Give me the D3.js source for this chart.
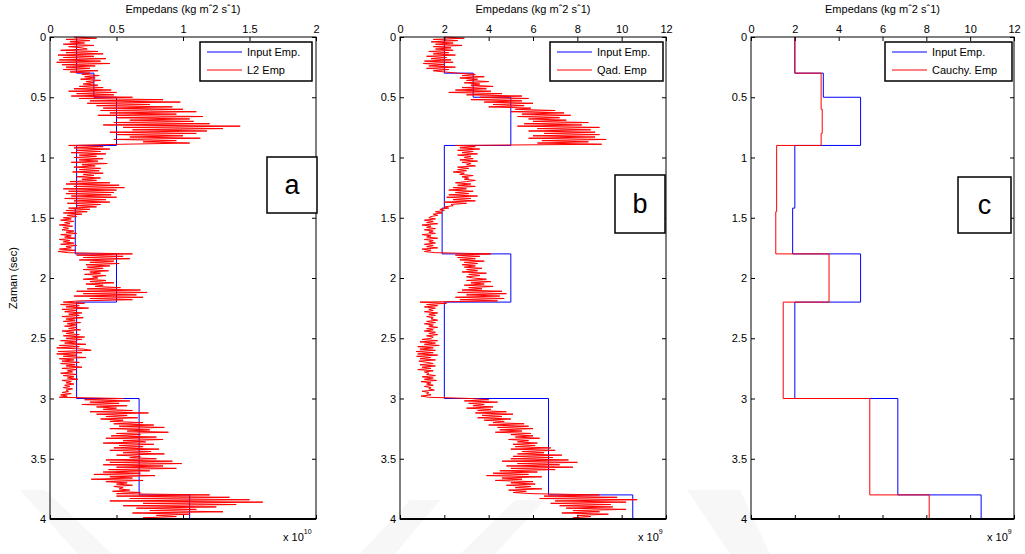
<!DOCTYPE html>
<html>
<head>
<meta charset="utf-8">
<script src="https://cdn.jsdelivr.net/npm/d3@7"></script>
<style>
  body { margin: 0; background: #fff; }
  text { font-family: "Liberation Sans", Arial, sans-serif; fill: #000; }
</style>
</head>
<body>
<svg id="chart" width="1025" height="554"></svg>
<script>
// ---- data ----
// step model (input impedance), units of 1e9
const stepTimes = [0, 0.3, 0.5, 0.9, 1.42, 1.8, 2.2, 3.0, 3.8, 4.0];
const inputImp = [2.0, 3.3, 5.0, 2.0, 1.9, 5.0, 2.0, 6.7, 10.5];

// Cauchy inversion result, units of 1e9
const cauchyTimes = [0, 0.3, 0.6, 0.8, 0.9, 1.45, 1.8, 2.2, 3.0, 3.8, 4.0];
const cauchyImp = [2.0, 3.2, 3.25, 3.2, 1.17, 1.13, 3.56, 1.47, 5.42, 8.13];

// L2 inversion result, sampled every 0.01 s, units of 1e10
const l2Imp = [
  0.18,0.35,0.12,0.30,0.15,0.26,0.10,0.33,0.14,0.24,
  0.28,0.08,0.36,0.12,0.40,0.06,0.33,0.10,0.42,0.07,
  0.38,0.05,0.45,0.09,0.34,0.12,0.30,0.10,0.36,0.15,
  0.30,0.24,0.37,0.26,0.34,0.23,0.38,0.27,0.33,0.25,
  0.36,0.22,0.40,0.18,0.46,0.14,0.50,0.20,0.48,0.16,
  0.62,0.22,0.85,0.30,0.98,0.28,0.75,0.35,0.92,0.40,
  1.00,0.38,1.10,0.45,0.95,0.36,1.15,0.50,1.05,0.60,
  1.08,0.48,1.20,0.40,1.43,0.55,1.30,0.62,1.18,0.45,
  1.10,0.50,1.00,0.60,1.13,0.48,0.95,0.70,1.05,0.55,
  0.14,0.40,0.18,0.45,0.20,0.38,0.16,0.42,0.22,0.35,
  0.18,0.40,0.22,0.36,0.16,0.43,0.24,0.34,0.18,0.38,
  0.22,0.37,0.17,0.40,0.25,0.33,0.20,0.38,0.24,0.35,
  0.15,0.45,0.12,0.52,0.18,0.56,0.10,0.50,0.14,0.48,
  0.12,0.46,0.16,0.50,0.11,0.42,0.18,0.45,0.13,0.38,
  0.20,0.35,0.14,0.30,0.12,0.28,0.10,0.24,0.13,0.20,
  0.10,0.16,0.08,0.18,0.11,0.15,0.07,0.17,0.10,0.14,
  0.09,0.18,0.12,0.20,0.08,0.16,0.11,0.19,0.07,0.15,
  0.10,0.18,0.08,0.20,0.12,0.16,0.07,0.19,0.06,0.14,
  0.62,0.20,0.55,0.25,0.60,0.22,0.48,0.30,0.52,0.27,
  0.45,0.28,0.40,0.25,0.44,0.30,0.38,0.26,0.42,0.32,
  0.36,0.25,0.42,0.30,0.48,0.27,0.40,0.34,0.53,0.28,
  0.68,0.20,0.73,0.25,0.65,0.18,0.70,0.30,0.62,0.22,
  0.10,0.26,0.08,0.22,0.12,0.29,0.09,0.20,0.11,0.24,
  0.14,0.22,0.09,0.25,0.12,0.19,0.10,0.23,0.13,0.20,
  0.11,0.20,0.14,0.23,0.09,0.18,0.12,0.22,0.10,0.26,
  0.12,0.24,0.08,0.20,0.11,0.27,0.07,0.22,0.05,0.25,
  0.31,0.06,0.24,0.05,0.20,0.10,0.27,0.07,0.18,0.09,
  0.22,0.08,0.19,0.12,0.24,0.09,0.20,0.13,0.17,0.08,
  0.20,0.10,0.18,0.13,0.21,0.09,0.16,0.12,0.18,0.11,
  0.15,0.10,0.17,0.12,0.14,0.09,0.16,0.08,0.13,0.07,
  0.55,0.26,0.60,0.30,0.52,0.24,0.58,0.35,0.50,0.40,
  0.62,0.30,0.74,0.35,0.58,0.42,0.66,0.38,0.55,0.45,
  0.70,0.48,0.78,0.52,0.86,0.45,0.75,0.58,0.89,0.50,
  0.68,0.46,0.80,0.42,0.85,0.55,0.72,0.40,0.78,0.52,
  0.70,0.48,0.82,0.45,0.76,0.55,0.86,0.50,0.68,0.60,
  0.80,0.42,0.92,0.45,0.99,0.40,0.85,0.50,0.95,0.44,
  0.75,0.40,0.68,0.33,0.79,0.45,0.62,0.31,0.70,0.42,
  0.58,0.50,0.62,0.48,0.55,0.52,0.60,0.47,0.68,0.50,
  1.20,0.50,1.35,0.60,1.50,0.45,1.60,0.70,1.40,0.55,
  1.25,0.65,1.10,0.75,1.30,0.62,1.05,0.80,0.95,0.70,
  0.90
];

// quadratic inversion result, sampled every 0.01 s, units of 1e9
const qadImp = [
  2.0,2.9,1.5,2.6,1.4,2.4,1.6,2.8,1.5,2.3,
  1.6,2.4,1.3,2.2,1.5,2.5,1.2,2.1,1.4,2.3,
  1.1,2.4,1.05,2.0,1.3,2.5,1.2,2.2,1.5,2.0,
  2.6,3.4,2.8,3.8,2.7,3.5,3.0,4.0,2.9,3.6,
  3.2,4.2,2.8,3.9,2.5,4.1,2.2,4.6,3.0,5.5,
  3.6,5.8,3.2,5.5,3.8,6.0,4.2,5.6,4.0,5.9,
  5.2,7.0,5.0,7.4,5.5,7.7,5.3,7.2,5.8,7.5,
  6.0,8.5,5.6,8.2,5.3,9.0,6.2,8.6,5.8,8.8,
  6.5,9.0,6.0,8.8,5.8,9.3,6.4,8.5,6.2,9.1,
  2.5,3.4,2.7,3.6,2.6,3.3,2.8,3.5,2.6,3.2,
  2.9,3.3,2.7,3.5,2.8,3.2,3.0,3.4,2.6,3.1,
  2.6,3.0,2.4,2.9,2.7,3.3,2.8,3.1,2.9,3.4,
  3.0,2.5,3.2,2.6,3.4,2.4,3.0,2.2,3.3,2.5,
  3.1,2.2,3.5,2.1,3.2,2.4,3.4,2.0,3.0,2.3,
  2.4,2.0,2.2,1.8,2.0,1.6,1.9,1.5,1.7,1.4,
  1.3,1.6,1.1,1.5,1.2,1.7,1.0,1.4,1.2,1.6,
  1.1,1.5,1.3,1.6,1.0,1.4,1.2,1.7,1.1,1.5,
  1.3,1.6,1.1,1.5,1.2,1.7,1.0,1.4,1.1,1.6,
  4.1,2.5,3.6,2.6,3.4,2.7,3.8,2.9,3.5,2.8,
  3.4,2.9,3.7,3.0,3.5,2.8,3.9,3.1,3.6,3.0,
  3.3,3.9,3.0,4.1,3.2,3.8,2.9,4.2,3.1,3.7,
  2.8,4.6,2.6,4.8,3.0,4.5,2.5,4.7,2.7,4.4,
  0.9,2.1,1.2,1.7,1.1,1.6,1.3,1.5,1.1,1.7,
  1.3,1.6,1.2,1.5,1.4,1.7,1.2,1.6,1.1,1.5,
  1.3,1.7,1.2,1.5,1.1,1.6,1.3,1.7,1.2,1.5,
  1.4,1.0,1.7,0.9,1.6,1.1,1.77,0.8,1.5,0.9,
  1.6,0.72,1.5,0.8,1.7,0.75,1.4,0.9,1.6,0.85,
  1.2,1.5,0.9,1.6,1.0,1.4,0.8,1.5,1.1,1.3,
  1.2,1.6,1.0,1.5,1.1,1.65,0.95,1.4,1.2,1.5,
  1.1,1.4,1.3,1.55,1.0,1.3,1.2,1.4,0.95,1.3,
  3.2,4.0,2.9,4.4,3.1,3.8,3.3,4.2,3.0,4.1,
  3.5,4.8,3.4,5.1,3.7,4.6,3.5,5.0,3.8,4.7,
  4.2,5.6,4.0,5.8,4.4,6.0,4.5,5.5,4.3,5.9,
  5.0,6.0,5.2,6.3,4.9,5.8,5.3,6.2,5.1,6.1,
  5.2,6.8,5.0,7.0,5.5,6.5,5.3,7.3,5.1,6.9,
  5.0,7.6,4.6,8.0,5.3,7.2,4.8,7.8,5.0,7.0,
  4.5,6.2,4.2,5.8,3.9,6.4,4.6,5.5,4.3,6.0,
  5.0,6.1,4.8,5.9,5.2,6.4,4.9,5.7,5.1,6.0,
  9.0,6.5,9.8,6.3,10.7,7.0,10.2,6.8,9.5,7.2,
  9.6,7.5,10.2,7.8,9.0,7.3,9.4,8.0,8.6,7.8,
  8.2
];

const SAMPLE_DT = 0.01;
const timeTicks = [0, 0.5, 1, 1.5, 2, 2.5, 3, 3.5, 4];
const ticksA = [0, 0.5, 1, 1.5, 2];
const ticksBC = [0, 2, 4, 6, 8, 10, 12];

const TOP = 37;
const BOTTOM = 519;
const fmt = d3.format('~g');

const svg = d3.select('#chart');

// faint watermark in the background
const watermark = [
  [[20, 490], [45, 490], [112, 554], [78, 554]],
  [[360, 554], [410, 500], [440, 500], [395, 554]],
  [[460, 554], [515, 500], [545, 500], [495, 554]],
  [[687, 490], [740, 490], [770, 554], [730, 554]]
];
svg.append('g').selectAll('polygon').data(watermark).join('polygon')
  .attr('points', d => d.map(p => p.join(',')).join(' '))
  .attr('fill', '#f7f7f7');

function toSteps(times, values) {
  const pts = values.map((v, i) => ({ v, t: times[i] }));
  pts.push({ v: values[values.length - 1], t: times[times.length - 1] });
  return pts;
}

function toSamples(values) {
  return values.map((v, i) => ({ v, t: i * SAMPLE_DT }));
}

const panels = [
  {
    left: 50, right: 316, xMax: 2, ticks: ticksA,
    blue: toSteps(stepTimes, inputImp.map(v => v / 10)),
    red: toSamples(l2Imp), redStep: false,
    legendName: 'L2 Emp', legend: { x: 200, w: 112 },
    letter: 'a', box: { x: 267, y: 157, w: 50, h: 56 },
    exponent: '10', expX: 283, yLabel: true
  },
  {
    left: 400, right: 666, xMax: 12, ticks: ticksBC,
    blue: toSteps(stepTimes, inputImp),
    red: toSamples(qadImp), redStep: false,
    legendName: 'Qad. Emp', legend: { x: 550, w: 113 },
    letter: 'b', box: { x: 615, y: 175, w: 50, h: 58 },
    exponent: '9', expX: 638, yLabel: false
  },
  {
    left: 751, right: 1014, xMax: 12, ticks: ticksBC,
    blue: toSteps(stepTimes, inputImp),
    red: toSteps(cauchyTimes, cauchyImp), redStep: true,
    legendName: 'Cauchy. Emp', legend: { x: 885, w: 127 },
    letter: 'c', box: { x: 958, y: 177, w: 53, h: 56 },
    exponent: '9', expX: 987, yLabel: false
  }
];

panels.forEach(p => {
  const x = d3.scaleLinear().domain([0, p.xMax]).range([p.left, p.right]);
  const y = d3.scaleLinear().domain([0, 4]).range([TOP, BOTTOM]);
  const g = svg.append('g');

  // data lines
  const stepLine = d3.line().x(d => x(d.v)).y(d => y(d.t)).curve(d3.curveStepBefore);
  const plainLine = d3.line().x(d => x(d.v)).y(d => y(d.t));

  g.append('path').datum(p.blue)
    .attr('d', stepLine)
    .attr('fill', 'none').attr('stroke', '#0000ff').attr('stroke-width', 1);
  g.append('path').datum(p.red)
    .attr('d', p.redStep ? stepLine : plainLine)
    .attr('fill', 'none').attr('stroke', '#ff0000').attr('stroke-width', 1);

  // axes, ticks pointing inward
  g.append('g').attr('transform', `translate(0,${TOP})`)
    .call(d3.axisTop(x).tickValues(p.ticks).tickFormat(fmt).tickSize(-4).tickPadding(4));
  g.append('g').attr('transform', `translate(${p.left},0)`)
    .call(d3.axisLeft(y).tickValues(timeTicks).tickFormat(fmt).tickSize(-4).tickPadding(4));
  g.append('g').attr('transform', `translate(0,${BOTTOM})`)
    .call(d3.axisBottom(x).tickValues(p.ticks).tickSize(-4).tickFormat(''));
  g.append('g').attr('transform', `translate(${p.right},0)`)
    .call(d3.axisRight(y).tickValues(timeTicks).tickSize(-4).tickFormat(''));
  g.selectAll('.domain').remove();
  g.selectAll('.tick text').attr('font-size', 11)
    .attr('font-family', '"Liberation Sans", Arial, sans-serif');

  // frame
  g.append('rect')
    .attr('x', p.left).attr('y', TOP)
    .attr('width', p.right - p.left).attr('height', BOTTOM - TOP)
    .attr('fill', 'none').attr('stroke', '#000').attr('stroke-width', 1);
  g.append('line')
    .attr('x1', p.left).attr('x2', p.right)
    .attr('y1', BOTTOM).attr('y2', BOTTOM)
    .attr('stroke', '#000').attr('stroke-width', 2);

  // title
  g.append('text')
    .attr('x', (p.left + p.right) / 2).attr('y', 13)
    .attr('text-anchor', 'middle').attr('font-size', 11)
    .text('Empedans (kg mˆ2 sˆ1)');

  // exponent label
  const ex = g.append('text').attr('x', p.expX).attr('y', 541).attr('font-size', 11);
  ex.append('tspan').text('x 10');
  ex.append('tspan').attr('dy', -7).attr('font-size', 7).text(p.exponent);

  if (p.yLabel) {
    svg.append('text')
      .attr('transform', `translate(17,${(TOP + BOTTOM) / 2}) rotate(-90)`)
      .attr('text-anchor', 'middle').attr('font-size', 11)
      .text('Zaman (sec)');
  }

  // legend
  const lg = g.append('g').attr('transform', `translate(${p.legend.x},42)`);
  lg.append('rect').attr('width', p.legend.w).attr('height', 39)
    .attr('fill', '#fff').attr('stroke', '#000').attr('stroke-width', 1.5);
  const items = [
    { name: 'Input Emp.', color: '#0000ff' },
    { name: p.legendName, color: '#ff0000' }
  ];
  items.forEach((it, i) => {
    const yy = 10 + i * 18;
    lg.append('line').attr('x1', 7).attr('x2', 42).attr('y1', yy).attr('y2', yy)
      .attr('stroke', it.color).attr('stroke-width', 1);
    lg.append('text').attr('x', 47).attr('y', yy + 4).attr('font-size', 11).text(it.name);
  });

  // panel letter
  g.append('rect')
    .attr('x', p.box.x).attr('y', p.box.y).attr('width', p.box.w).attr('height', p.box.h)
    .attr('fill', '#fff').attr('stroke', '#000').attr('stroke-width', 1.5);
  g.append('text')
    .attr('x', p.box.x + p.box.w / 2).attr('y', p.box.y + p.box.h / 2 + 9)
    .attr('text-anchor', 'middle').attr('font-size', 27)
    .attr('font-family', '"Open Sans", "Liberation Sans", sans-serif')
    .text(p.letter);
});
</script>
</body>
</html>
